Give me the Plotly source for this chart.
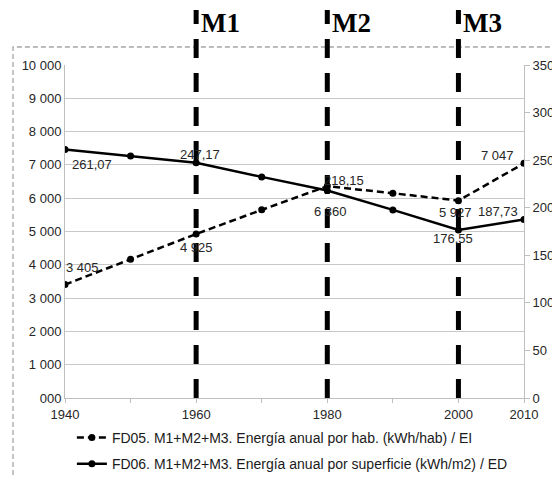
import plotly.graph_objects as go

years = [1940, 1950, 1960, 1970, 1980, 1990, 2000, 2010]
fd05 = [3405, 4170, 4925, 5650, 6360, 6150, 5927, 7047]
fd06 = [261.07, 254.4, 247.17, 232.4, 218.15, 197.7, 176.55, 187.73]
fd05_name = "FD05. M1+M2+M3. Energía anual por hab. (kWh/hab) / EI"
fd06_name = "FD06. M1+M2+M3. Energía anual por superficie (kWh/m2) / ED"
x_ticktext = ["1940", "", "1960", "", "1980", "", "2000", "2010"]
y_tickvals = list(range(0, 10001, 1000))
y_ticktext = ["000"] + [f"{v // 1000} 000" for v in y_tickvals[1:]]
y2_tickvals = list(range(0, 351, 50))
milestones = [1960, 1980, 2000]
milestone_labels = ["M1", "M2", "M3"]

# which points carry data labels (indices) and their label offsets (px)
lab_idx = [0, 2, 4, 6, 7]
fd05_off = [(17, -17), (0, 13), (3, 25), (-3, 12), (-27, -8)]
fd06_off = [(27, 15), (4, -8), (17, -10), (-5, 8), (-26, -8)]
m_label_y = [1.127, 1.127, 1.127]


def fmt05(v):
    return f"{v:,}".replace(",", " ")


def fmt06(v):
    return f"{v:.2f}".replace(".", ",")


fig = go.Figure()
fig.add_trace(go.Scatter(
    x=years, y=fd05, name=fd05_name, mode="lines+markers",
    line=dict(color="black", width=2.5, dash="7px,4px"),
    marker=dict(size=7, color="black"), legendgroup="a", yaxis="y"))
fig.add_trace(go.Scatter(
    x=years, y=fd06, name=fd06_name, mode="lines+markers",
    line=dict(color="black", width=2.5),
    marker=dict(size=7, color="black"), legendgroup="b", yaxis="y2"))

ann = []
lab_font = dict(family="Liberation Sans, Arial", size=13, color="#262626")
for k, i in enumerate(lab_idx):
    dx, dy = fd05_off[k]
    ann.append(dict(x=years[i], y=fd05[i], xref="x", yref="y", text=fmt05(fd05[i]),
                    showarrow=False, xshift=dx, yshift=-dy, font=lab_font))
    dx, dy = fd06_off[k]
    ann.append(dict(x=years[i], y=fd06[i], xref="x", yref="y2", text=fmt06(fd06[i]),
                    showarrow=False, xshift=dx, yshift=-dy, font=lab_font))

shapes = []
for k, yr in enumerate(milestones):
    shapes.append(dict(type="line", xref="x", yref="paper", x0=yr, x1=yr, y0=0, y1=1.165,
                       line=dict(color="black", width=5, dash="19px,15px"), layer="above"))
    ann.append(dict(x=yr, y=m_label_y[k], xref="x", yref="paper",
                    text="<b>" + milestone_labels[k] + "</b>",
                    showarrow=False, xanchor="left", yanchor="middle", xshift=3,
                    font=dict(family="Liberation Serif, Times New Roman", size=27, color="black")))

# outer dashed chart-area border
shapes.append(dict(type="rect", xref="paper", yref="paper", x0=-0.1133, x1=1.0719, y0=-0.27, y1=1.054,
                   line=dict(color="#a6a6a6", width=1.3, dash="5px,3px"), layer="below"))

tick_font = dict(family="Liberation Sans, Arial", size=13, color="#262626")
fig.update_layout(
    width=552, height=470,
    margin=dict(l=57, r=36, t=57, b=80, autoexpand=False),
    paper_bgcolor="white", plot_bgcolor="white",
    showlegend=True,
    legend=dict(x=0.015, y=-0.072, xanchor="left", yanchor="top", orientation="v",
                font=dict(family="Liberation Sans, Arial", size=14, color="#1a1a1a"),
                bgcolor="rgba(0,0,0,0)", tracegroupgap=5, itemwidth=30),
    xaxis=dict(range=[1940, 2010], tickvals=years, ticktext=x_ticktext, showgrid=False,
               showline=True, linecolor="#bfbfbf", linewidth=1, ticks="outside", ticklen=4,
               tickcolor="#bfbfbf", tickfont=tick_font, zeroline=False, automargin=False),
    yaxis=dict(range=[0, 10000], tickvals=y_tickvals, ticktext=y_ticktext, showgrid=True,
               gridcolor="#c8c8c8", gridwidth=1, showline=True, linecolor="#bfbfbf",
               ticks="", tickfont=tick_font, zeroline=False, automargin=False),
    yaxis2=dict(range=[0, 350], tickvals=y2_tickvals, overlaying="y", side="right",
                showgrid=False, showline=True, linecolor="#bfbfbf", ticks="outside", ticklen=5,
                tickcolor="#bfbfbf", tickfont=tick_font, zeroline=False, automargin=False),
    annotations=ann, shapes=shapes,
)

fig.write_html("out.html")
